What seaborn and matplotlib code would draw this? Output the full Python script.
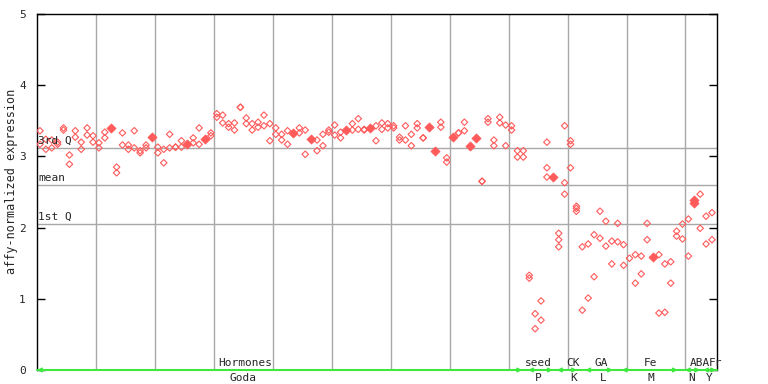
import numpy as np
import pandas as pd
import matplotlib
matplotlib.use("Agg")
import matplotlib.pyplot as plt
import seaborn as sns

nan = np.nan

# replicate values per sample (affy-normalized expression)
rep1 = [3.36, 3.24, 3.23, 3.20, 3.40, 3.02, 3.36, 3.20, 3.40, 3.29,
        3.19, 3.34, 3.40, 2.85, 3.33, 3.16, 3.36, 3.08, 3.16, 3.27,
        3.13, 3.10, 3.31, 3.13, 3.22, 3.17, 3.26, 3.40, 3.24, 3.33,
        3.60, 3.58, 3.46, 3.47, 3.69, 3.54, 3.46, 3.48, 3.58, 3.46,
        3.40, 3.31, 3.36, 3.33, 3.40, 3.37, 3.24, 3.23, 3.31, 3.37,
        3.44, 3.34, 3.37, 3.46, 3.53, 3.37, 3.40, 3.43, 3.47, 3.46,
        3.43, 3.27, 3.43, 3.31, 3.46, 3.26, 3.41, 3.08, 3.48, 2.98,
        3.27, 3.33, 3.48, 3.15, 3.26, 2.65, 3.53, 3.23, 3.55, 3.44,
        3.43, 3.08, 3.08, 1.33, 0.79, 0.97, 3.20, 2.71, 1.92, 3.43,
        3.22, 2.30, 1.73, 1.77, 1.90, 2.23, 2.09, 1.81, 2.06, 1.76,
        1.57, 1.62, 1.60, 2.06, 1.59, 1.62, 1.49, 1.52, 1.95, 2.05,
        2.12, 2.39, 2.47, 2.16, 2.21]
rep2 = [3.17, 3.10, 3.12, 3.17, 3.37, 2.89, 3.27, 3.10, 3.30, 3.20,
        3.12, 3.26, nan, 2.77, 3.16, 3.10, 3.12, 3.05, 3.12, nan,
        3.05, 2.91, 3.12, 3.13, 3.13, nan, 3.19, 3.17, nan, 3.29,
        3.55, 3.47, 3.41, 3.37, 3.69, 3.46, 3.37, 3.41, 3.43, 3.22,
        3.31, 3.23, 3.17, nan, 3.33, 3.03, nan, 3.08, 3.15, 3.34,
        3.30, 3.26, nan, 3.37, 3.38, 3.38, nan, 3.22, 3.38, 3.40,
        3.40, 3.23, 3.23, 3.15, 3.40, 3.26, nan, nan, 3.41, 2.92,
        nan, 3.33, 3.36, nan, nan, 2.65, 3.48, 3.15, 3.47, 3.15,
        3.37, 2.99, 2.99, 1.29, 0.58, 0.70, 2.84, nan, 1.83, 2.63,
        3.17, 2.23, 0.84, 1.01, 1.31, 1.85, 1.74, 1.49, 1.80, 1.47,
        nan, 1.22, 1.35, 1.83, nan, 0.80, 0.81, 1.22, 1.88, 1.84,
        1.60, 2.35, 1.99, 1.77, 1.83]
rep3 = {86: 2.71, 88: 1.73, 89: 2.47, 90: 2.84, 91: 2.27}
filled = [12, 19, 25, 28, 43, 46, 52, 56, 66, 67, 70, 73, 74, 87, 104, 111]

third_q, mean_val, first_q = 3.118, 2.598, 2.05

groups = ["Hormones", "seed", "CK", "GA", "Fe", "ABA", "Fr"]
group_spans = [(-0.5, 81.8), (82.8, 87.0), (87.7, 91.1), (92.5, 97.2),
               (98.7, 108.2), (109.4, 112.0), (112.5, 114.7)]
group_label_x = [34.8, 84.5, 90.4, 95.2, 103.5, 112.0, 114.6]
subsets = ["Goda", "P", "K", "L", "M", "N", "Y"]
subset_label_x = [34.4, 84.5, 90.6, 95.5, 103.6, 110.6, 113.5]

rows = []
for i, (a, b) in enumerate(zip(rep1, rep2)):
    kind = "filled" if i in filled else "hollow"
    rows.append((i, a, kind))
    if not np.isnan(b):
        rows.append((i, b, kind))
    if i in rep3:
        rows.append((i, rep3[i], kind))
df = pd.DataFrame(rows, columns=["sample", "value", "kind"])

sns.set_style("white")
plt.rcParams["font.family"] = ["DejaVu Sans Mono"]

red = "#ff5a5a"
green = "#3ee83e"
grid = "#a8a8a8"

fig = plt.figure(figsize=(7.68, 3.84), dpi=100)
ax = fig.add_axes([37 / 768, 14 / 384, 680 / 768, 356 / 384])

for gx in np.arange(9.5, 114, 10):
    ax.axvline(gx, color=grid, lw=1, zorder=0)
for yv in (third_q, mean_val, first_q):
    ax.axhline(yv, color=grid, lw=1, zorder=0)

sns.scatterplot(data=df[df.kind == "hollow"], x="sample", y="value", marker="D",
                s=11, facecolors="none", edgecolor=red, linewidth=0.8, ax=ax, zorder=3)
sns.scatterplot(data=df[df.kind == "filled"], x="sample", y="value", marker="D",
                s=22, color=red, edgecolor=red, linewidth=0.5, ax=ax, zorder=3)

ax.set_xlim(-0.5, 114.85)
ax.set_ylim(0, 5)
ax.set_xticks([])
ax.set_yticks(range(6))
ax.tick_params(axis="y", direction="in", length=6, width=1, color="black",
               right=True, left=True, labelsize=8, pad=8)
ax.set_xlabel("")
ax.set_ylabel("")
for side in ("left", "top", "right"):
    ax.spines[side].set_color("black")
    ax.spines[side].set_linewidth(1)
ax.spines["bottom"].set_visible(False)

ax.text(-0.35, third_q + 0.03, "3rd Q", fontsize=8, va="bottom", ha="left")
ax.text(-0.35, mean_val + 0.03, "mean", fontsize=8, va="bottom", ha="left")
ax.text(-0.35, first_q + 0.03, "1st Q", fontsize=8, va="bottom", ha="left")

ax.axhline(0, color=green, lw=1.5, zorder=4, clip_on=False)
for (x0, x1), g, gx, sub, sx in zip(group_spans, groups, group_label_x,
                                    subsets, subset_label_x):
    ax.annotate("", xy=(x1, 0), xytext=(x0, 0),
                arrowprops=dict(arrowstyle="<->", color=green, lw=1.2,
                                mutation_scale=6, shrinkA=0, shrinkB=0),
                annotation_clip=False, zorder=5)
    ax.text(gx, 0.03, g, fontsize=8, ha="center", va="bottom")
    ax.text(sx, -0.04, sub, fontsize=8, ha="center", va="top", clip_on=False)

fig.text(12 / 768, 1 - 181 / 384, "affy-normalized expression", rotation=90,
         fontsize=8.5, ha="center", va="center")

fig.savefig("out.png", dpi=100)
